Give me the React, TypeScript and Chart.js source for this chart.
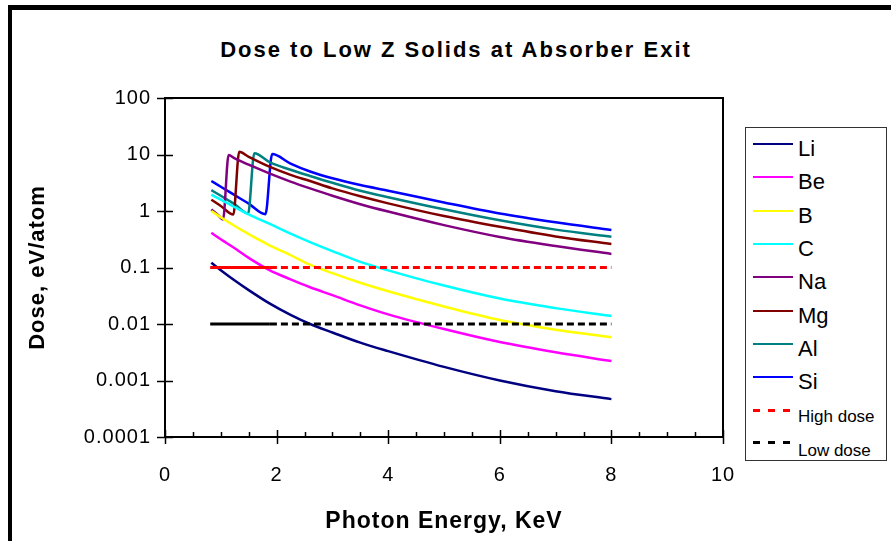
import React, { useEffect, useRef } from "react";
import { Chart, registerables } from "chart.js";

Chart.register(...registerables);

// ---------- data ----------
const TITLE = "Dose to Low Z Solids at Absorber Exit";
const X_TITLE = "Photon Energy, KeV";
const Y_TITLE = "Dose, eV/atom";

const X_TICKS = [0, 2, 4, 6, 8, 10];
const X_TICK_LABELS = ["0", "2", "4", "6", "8", "10"];
const Y_TICKS = [0.0001, 0.001, 0.01, 0.1, 1, 10, 100];
const Y_TICK_LABELS = ["0.0001", "0.001", "0.01", "0.1", "1", "10", "100"];

const ENERGY_SMOOTH = [0.83, 1, 1.25, 1.5, 1.88, 2.25, 2.6, 3, 3.5, 4, 5, 6, 7, 8];
const LI = [0.1216, 0.0897, 0.0589, 0.0398, 0.0229, 0.0145, 0.01, 0.00708, 0.00468, 0.00331, 0.00174, 0.001, 0.000646, 0.000468];
const BE = [0.412, 0.316, 0.219, 0.148, 0.0891, 0.0617, 0.0447, 0.0324, 0.0214, 0.0148, 0.00813, 0.00479, 0.00316, 0.00221];
const B = [1.0, 0.776, 0.543, 0.389, 0.245, 0.166, 0.112, 0.0794, 0.0537, 0.038, 0.0204, 0.01175, 0.00794, 0.00582];
const C = [1.95, 1.585, 1.175, 0.871, 0.589, 0.398, 0.282, 0.195, 0.126, 0.0891, 0.0479, 0.0282, 0.0191, 0.0138];

const NA_ENERGY = [0.83, 0.95, 1.04, 1.14, 1.25, 1.5, 1.88, 2.25, 2.6, 3, 3.5, 4, 5, 6, 7, 8];
const NA = [1.062, 0.851, 0.708, 9.77, 8.51, 6.61, 4.57, 3.31, 2.51, 1.86, 1.318, 0.977, 0.562, 0.347, 0.24, 0.174];

const MG_ENERGY = [0.83, 1.0, 1.225, 1.33, 1.5, 1.88, 2.25, 2.6, 3, 3.5, 4, 5, 6, 7, 8];
const MG = [1.585, 1.23, 0.865, 11.17, 9.12, 6.03, 4.37, 3.39, 2.51, 1.82, 1.365, 0.813, 0.525, 0.355, 0.26];

const AL_ENERGY = [0.83, 1.0, 1.25, 1.49, 1.6, 1.88, 2.25, 2.6, 3, 3.5, 4, 5, 6, 7, 8];
const AL = [2.344, 1.862, 1.318, 0.902, 10.47, 7.24, 5.37, 4.17, 3.16, 2.29, 1.758, 1.072, 0.684, 0.468, 0.351];

const SI_ENERGY = [0.83, 1.0, 1.25, 1.5, 1.8, 1.92, 2.25, 2.6, 3, 3.5, 4, 5, 6, 7, 8];
const SI = [3.39, 2.69, 1.905, 1.349, 0.877, 10.16, 6.92, 5.01, 3.8, 2.88, 2.29, 1.413, 0.902, 0.631, 0.462];

const DOSE_ENERGY = [0.81, 1.88, 8];
const HIGH_DOSE = [0.1, 0.1, 0.1];
const LOW_DOSE = [0.01, 0.01, 0.01];

const CURVE_NAMES = ["Li", "Be", "B", "C", "Na", "Mg", "Al", "Si"];
const CURVE_COLORS = ["#000080", "#FF00FF", "#FFFF00", "#00FFFF", "#800080", "#800000", "#008080", "#0000FF"];
const CURVE_ENERGIES = [ENERGY_SMOOTH, ENERGY_SMOOTH, ENERGY_SMOOTH, ENERGY_SMOOTH, NA_ENERGY, MG_ENERGY, AL_ENERGY, SI_ENERGY];
const CURVE_VALUES = [LI, BE, B, C, NA, MG, AL, SI];

const DOSE_NAMES = ["High dose", "Low dose"];
const DOSE_COLORS = ["#FF0000", "#000000"];
const DOSE_VALUES = [HIGH_DOSE, LOW_DOSE];

const FONT = "Arial, 'Liberation Sans', sans-serif";

const toPoints = (xs: number[], ys: number[]) => xs.map((x, i) => ({ x, y: ys[i] }));

const spacingPlugin = {
  id: "spacing",
  beforeLayout(chart: any) {
    chart.ctx.letterSpacing = "1px";
  },
  beforeDraw(chart: any) {
    chart.ctx.letterSpacing = "1px";
  },
};

const framePlugin = {
  id: "frameTicks",
  afterDatasetsDraw(chart: any) {
    const { ctx, chartArea: a, scales } = chart;
    ctx.save();
    ctx.strokeStyle = "#000";
    ctx.lineWidth = 2;
    ctx.strokeRect(a.left, a.top, a.right - a.left, a.bottom - a.top);
    ctx.lineWidth = 1.5;
    ctx.beginPath();
    Y_TICKS.forEach((v) => {
      const y = Math.round(scales.y.getPixelForValue(v)) + 0.5;
      ctx.moveTo(a.left - 8, y);
      ctx.lineTo(a.left + 8, y);
    });
    X_TICKS.forEach((v) => {
      const x = Math.round(scales.x.getPixelForValue(v)) + 0.5;
      ctx.moveTo(x, a.bottom - 7);
      ctx.lineTo(x, a.bottom + 7);
    });
    for (let k = 1; k < 20; k++) {
      if (k % 4 === 0) continue;
      const x = Math.round(scales.x.getPixelForValue(k * 0.5)) + 0.5;
      ctx.moveTo(x, a.bottom - 5);
      ctx.lineTo(x, a.bottom);
    }
    ctx.stroke();
    ctx.restore();
  },
};

export default function App() {
  const canvasRef = useRef<HTMLCanvasElement | null>(null);

  useEffect(() => {
    if (!canvasRef.current) return;
    const curveSets = CURVE_NAMES.map((name, i) => ({
      label: name,
      data: toPoints(CURVE_ENERGIES[i], CURVE_VALUES[i]),
      borderColor: CURVE_COLORS[i],
      backgroundColor: CURVE_COLORS[i],
      borderWidth: 2.5,
      pointRadius: 0,
      cubicInterpolationMode: "monotone" as const,
      fill: false,
      order: 1,
    }));
    const doseSets = DOSE_NAMES.map((name, i) => ({
      label: name,
      data: toPoints(DOSE_ENERGY, DOSE_VALUES[i]),
      borderColor: DOSE_COLORS[i],
      backgroundColor: DOSE_COLORS[i],
      borderWidth: 3,
      pointRadius: 0,
      tension: 0,
      fill: false,
      order: 0,
      segment: {
        borderDash: (ctx: any) => (ctx.p0DataIndex < 1 ? [] : [7, 4]),
      },
    }));

    const chart = new Chart(canvasRef.current, {
      type: "line",
      data: { datasets: [...curveSets, ...doseSets] as any },
      options: {
        animation: false,
        responsive: false,
        events: [],
        layout: { padding: { left: 0, right: 168, top: 98, bottom: 0 } },
        plugins: {
          legend: { display: false },
          tooltip: { enabled: false },
          title: { display: false },
        },
        scales: {
          x: {
            type: "linear",
            min: 0,
            max: 10,
            afterBuildTicks: (scale: any) => {
              scale.ticks = X_TICKS.map((value) => ({ value }));
            },
            afterFit: (scale: any) => {
              scale.height = 104;
            },
            grid: { display: false, drawTicks: false },
            border: { display: false },
            ticks: {
              autoSkip: false,
              maxRotation: 0,
              padding: 26,
              color: "#000",
              font: { family: FONT, size: 20 },
              callback: (_v: any, i: number) => X_TICK_LABELS[i],
            },
            title: {
              display: true,
              text: X_TITLE,
              color: "#000",
              font: { family: FONT, size: 23, weight: "bold" },
              padding: { top: 0, bottom: 6 },
            },
          },
          y: {
            type: "logarithmic",
            min: 0.0001,
            max: 100,
            afterBuildTicks: (scale: any) => {
              scale.ticks = Y_TICKS.map((value) => ({ value }));
            },
            afterFit: (scale: any) => {
              scale.width = 165;
            },
            grid: { display: false, drawTicks: false },
            border: { display: false },
            ticks: {
              autoSkip: false,
              padding: 14,
              color: "#000",
              font: { family: FONT, size: 20 },
              callback: (_v: any, i: number) => Y_TICK_LABELS[i],
            },
            title: {
              display: true,
              text: Y_TITLE,
              color: "#000",
              font: { family: FONT, size: 22, weight: "bold" },
              padding: { top: 25, bottom: 0 },
            },
          },
        },
      },
      plugins: [spacingPlugin, framePlugin],
    });
    return () => chart.destroy();
  }, []);

  const legendItems = [
    ...CURVE_NAMES.map((n, i) => ({ name: n, color: CURVE_COLORS[i], dashed: false })),
    ...DOSE_NAMES.map((n, i) => ({ name: n, color: DOSE_COLORS[i], dashed: true })),
  ];

  return (
    <div
      style={{
        position: "absolute",
        left: 0,
        top: 0,
        width: 891,
        height: 541,
        background: "#fff",
        overflow: "hidden",
      }}
    >
      <div
        style={{
          position: "absolute",
          left: 8,
          top: 5,
          width: 900,
          height: 560,
          borderLeft: "4px solid #000",
          borderTop: "5px solid #000",
        }}
      />
      <div
        style={{
          position: "absolute",
          left: 0,
          top: 39,
          width: 912,
          textAlign: "center",
          fontFamily: FONT,
          fontWeight: "bold",
          fontSize: 22,
          lineHeight: "22px",
          letterSpacing: "2px",
          color: "#000",
          whiteSpace: "nowrap",
        }}
      >
        {TITLE}
      </div>
      <canvas
        ref={canvasRef}
        width={891}
        height={541}
        style={{ position: "absolute", left: 0, top: 0, width: 891, height: 541 }}
      />
      <div
        style={{
          position: "absolute",
          left: 745,
          top: 127,
          width: 142,
          height: 334,
          boxSizing: "border-box",
          border: "1px solid #333",
          background: "#fff",
          fontFamily: FONT,
          color: "#000",
        }}
      >
        {legendItems.map((it, i) => {
          const small = it.dashed;
          const lineY = small ? (i === 8 ? 282 : 314.7) : 16 + 33.3 * i;
          const textTop = small ? (i === 8 ? 280.4 : 313.7) : 10 + 33.3 * i;
          return (
            <React.Fragment key={it.name}>
              <div
                style={{
                  position: "absolute",
                  left: 7,
                  top: lineY - (small ? 1.5 : 1),
                  width: small ? 37 : 40,
                  height: small ? 3 : 2,
                  background: small
                    ? `repeating-linear-gradient(to right, ${it.color} 0px, ${it.color} 7px, transparent 7px, transparent 15px)`
                    : it.color,
                }}
              />
              <div
                style={{
                  position: "absolute",
                  left: 52,
                  top: textTop,
                  fontSize: small ? 17 : 22,
                  lineHeight: small ? "17px" : "22px",
                  whiteSpace: "nowrap",
                }}
              >
                {it.name}
              </div>
            </React.Fragment>
          );
        })}
      </div>
    </div>
  );
}
